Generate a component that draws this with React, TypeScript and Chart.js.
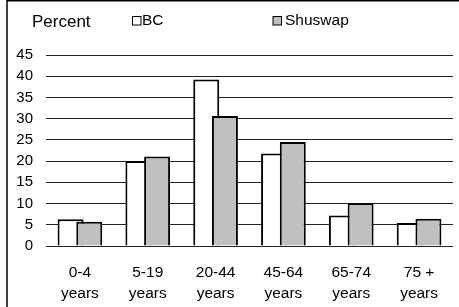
import React, { useEffect, useRef } from "react";
import { Chart, registerables } from "chart.js";

Chart.register(...registerables);

const categories: string[][] = [
  ["0-4", "years"],
  ["5-19", "years"],
  ["20-44", "years"],
  ["45-64", "years"],
  ["65-74", "years"],
  ["75 +", "years"],
];
const bcValues = [6.3, 20.0, 39.2, 21.8, 7.2, 5.4];
const shuswapValues = [5.7, 21.1, 30.6, 24.5, 10.1, 6.4];
const seriesNames = ["BC", "Shuswap"];
const yAxisTitle = "Percent";
const yMin = 0;
const yMax = 45;
const yStep = 5;

const FONT = "'Liberation Sans', Arial, sans-serif";

const framePlugin = {
  id: "frame",
  afterDraw(chart: any) {
    const ctx = chart.ctx;
    ctx.save();
    ctx.strokeStyle = "#000";
    ctx.lineWidth = 1.5;
    ctx.beginPath();
    ctx.moveTo(7, chart.height);
    ctx.lineTo(7, 0.75);
    ctx.lineTo(chart.width, 0.75);
    ctx.stroke();
    ctx.restore();
  },
};

const headerPlugin = {
  id: "header",
  afterDraw(chart: any) {
    const ctx = chart.ctx;
    ctx.save();
    ctx.fillStyle = "#000";
    ctx.textBaseline = "middle";
    ctx.textAlign = "left";
    ctx.font = `17px ${FONT}`;
    ctx.fillText(yAxisTitle, 32, 22);
    const items = [
      { x: 132.5, textX: 142 },
      { x: 273, textX: 285 },
    ];
    ctx.font = `15.5px ${FONT}`;
    chart.data.datasets.forEach((ds: any, i: number) => {
      const it = items[i];
      ctx.fillStyle = ds.backgroundColor;
      ctx.fillRect(it.x, 16.5, 8.5, 8.5);
      ctx.strokeStyle = "#000";
      ctx.lineWidth = 1;
      ctx.strokeRect(it.x, 16.5, 8.5, 8.5);
      ctx.fillStyle = "#000";
      ctx.fillText(ds.label, it.textX, 21);
    });
    ctx.restore();
  },
};

const onTopPlugin = {
  id: "onTop",
  beforeDatasetDraw(chart: any, args: any) {
    if (args.index === 1) return false;
  },
  afterDatasetsDraw(chart: any) {
    const meta = chart.getDatasetMeta(1);
    if (meta && meta.visible) meta.controller.draw();
  },
};

export default function App() {
  const ref = useRef<HTMLCanvasElement | null>(null);
  useEffect(() => {
    if (!ref.current) return;
    const chart = new Chart(ref.current, {
      type: "bar",
      data: {
        labels: categories,
        datasets: [
          {
            label: seriesNames[0],
            data: bcValues,
            backgroundColor: "#ffffff",
            borderColor: "#000000",
            borderWidth: 2,
            barPercentage: 1.39,
            categoryPercentage: 0.551,
          },
          {
            label: seriesNames[1],
            data: shuswapValues,
            backgroundColor: "#c0c0c0",
            borderColor: "#000000",
            borderWidth: 2,
            barPercentage: 1.39,
            categoryPercentage: 0.551,
          },
        ],
      },
      options: {
        animation: false,
        responsive: false,
        devicePixelRatio: 1,
        layout: { padding: { left: 0, right: 6, top: 55, bottom: 0 } },
        plugins: {
          legend: { display: false },
          title: { display: false },
          tooltip: { enabled: false },
        },
        scales: {
          x: {
            grid: { display: false },
            border: { display: false },
            ticks: {
              color: "#000",
              font: { family: FONT, size: 15.5, lineHeight: 1.3 },
              padding: 9,
              maxRotation: 0,
              autoSkip: false,
            },
            afterFit(scale: any) {
              scale.height = 61;
            },
          },
          y: {
            min: yMin,
            max: yMax,
            border: { display: false },
            grid: { color: "#222", lineWidth: 1, drawTicks: false },
            ticks: {
              stepSize: yStep,
              color: "#000",
              font: { family: FONT, size: 15 },
              padding: 13,
            },
            afterFit(scale: any) {
              scale.width = 46;
            },
          },
        },
      },
      plugins: [framePlugin, headerPlugin, onTopPlugin],
    });
    return () => chart.destroy();
  }, []);
  return (
    <div style={{ position: "absolute", left: 0, top: 0, width: 459, height: 307, background: "#fff" }}>
      <canvas ref={ref} width={459} height={307} />
    </div>
  );
}
